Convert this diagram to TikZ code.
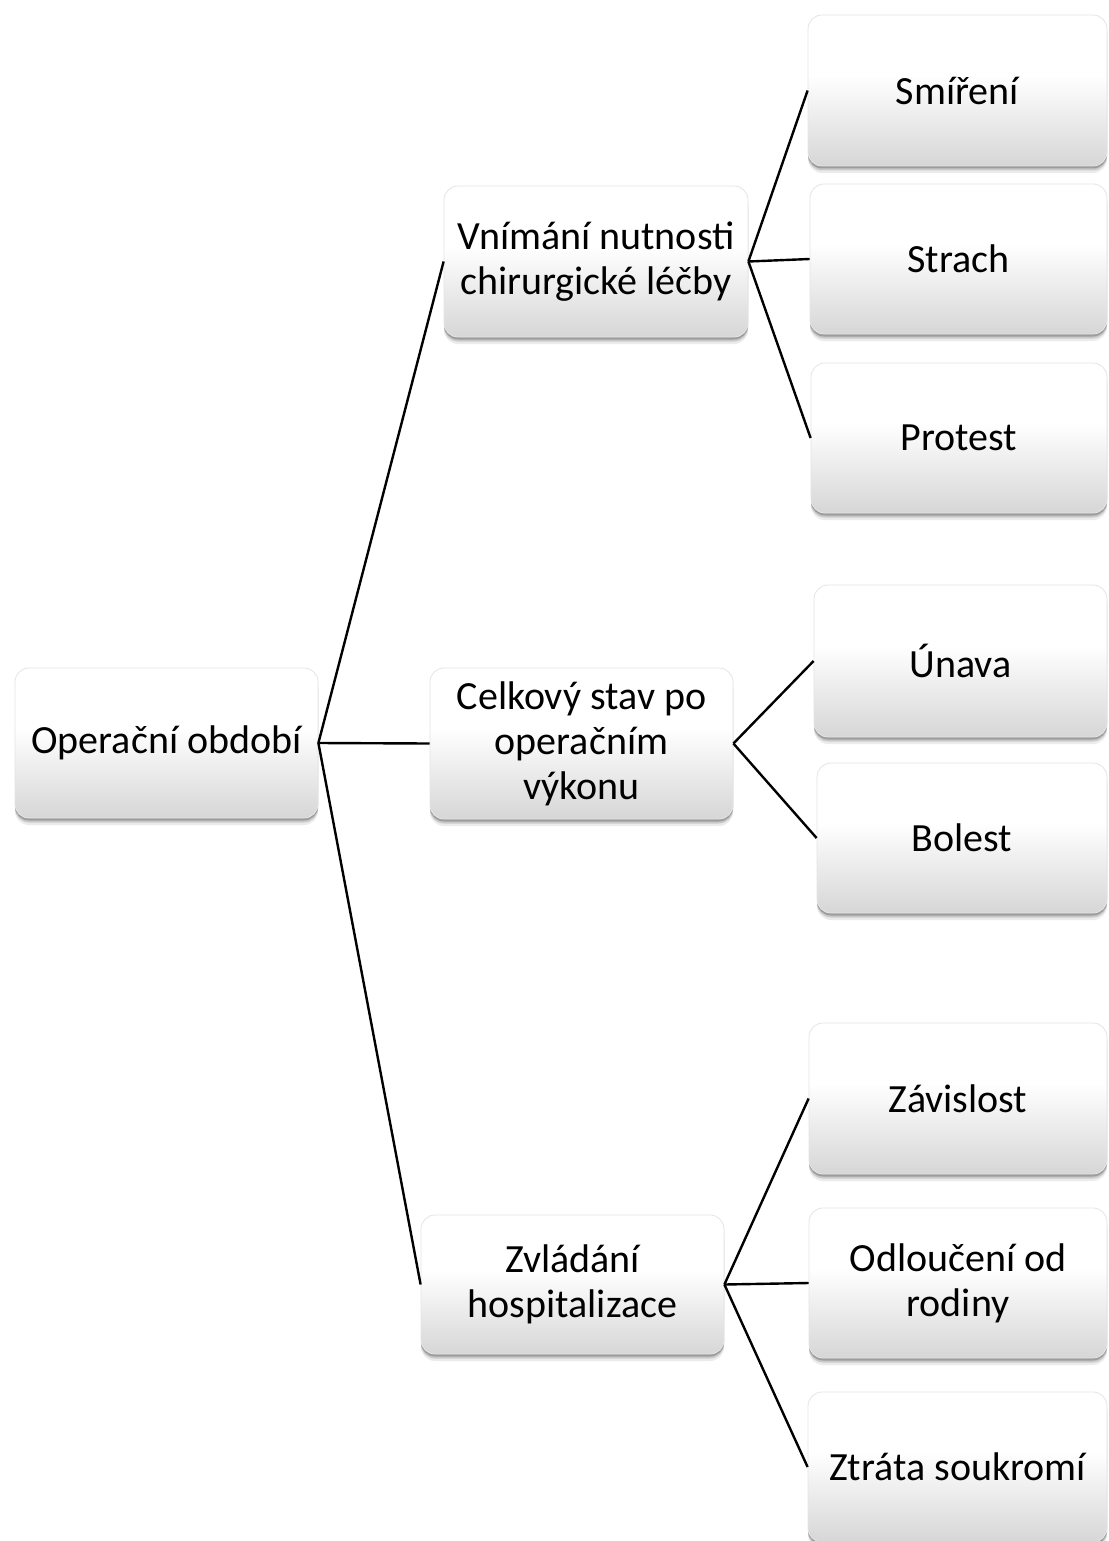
\documentclass[tikz,border=0pt]{standalone}
\usepackage{fontspec}
\setmainfont{Carlito}
% white upper half fading into light grey at the bottom
\pgfdeclareverticalshading{boxshade}{100bp}{
  color(0bp)=(black!16); color(25bp)=(black!16); color(55bp)=(white); color(100bp)=(white)}
\tikzset{
  softshadow/.style={preaction={fill=black, opacity=0.08, transform canvas={yshift=-7pt}},
    preaction={fill=black, opacity=0.14, transform canvas={yshift=-4.5pt}},
    preaction={fill=black, opacity=0.22, transform canvas={yshift=-2.5pt}}},
  box/.style={rectangle, rounded corners=14pt, draw=black!10, line width=0.8pt,
    softshadow, shade, shading=boxshade,
    align=center, inner sep=0pt, font=\fontsize{40}{45}\selectfont},
  link/.style={line width=2.4pt, black}
}
\begin{document}
\begin{tikzpicture}[x=1pt, y=1pt]
  \useasboundingbox[fill=white] (0,0) rectangle (1108,-1541);
  % root
  \node[box, minimum width=303pt, minimum height=150pt] (root) at (166.5,-743) {Operační období};
  % second level
  \node[box, minimum width=304pt, minimum height=151pt] (vni) at (596,-261.5) {Vnímání nutnosti\\chirurgické léčby};
  \node[box, minimum width=303pt, minimum height=151pt] (cel) at (581.5,-743.5) {Celkový stav po\\operačním\\výkonu};
  \node[box, minimum width=303pt, minimum height=139pt] (zvl) at (572.5,-1284.5) {Zvládání\\hospitalizace};
  % leaves
  \node[box, minimum width=299pt, minimum height=151pt] (smi) at (957.5,-90.5) {Smíření};
  \node[box, minimum width=297pt, minimum height=150pt] (str) at (958.5,-259) {Strach};
  \node[box, minimum width=296pt, minimum height=150pt] (pro) at (959,-438) {Protest};
  \node[box, minimum width=293pt, minimum height=152pt] (una) at (960.5,-661) {Únava};
  \node[box, minimum width=290pt, minimum height=150pt] (bol) at (962,-838) {Bolest};
  \node[box, minimum width=298pt, minimum height=151pt] (zav) at (958,-1098.5) {Závislost};
  \node[box, minimum width=298pt, minimum height=150pt] (odl) at (958,-1283) {Odloučení od\\rodiny};
  \node[box, minimum width=299pt, minimum height=150pt] (ztr) at (957.5,-1467) {Ztráta soukromí};
  % connectors
  \draw[link] (root.east) -- (vni.west);
  \draw[link] (root.east) -- (cel.west);
  \draw[link] (root.east) -- (zvl.west);
  \draw[link] (vni.east) -- (smi.west);
  \draw[link] (vni.east) -- (str.west);
  \draw[link] (vni.east) -- (pro.west);
  \draw[link] (cel.east) -- (una.west);
  \draw[link] (cel.east) -- (bol.west);
  \draw[link] (zvl.east) -- (zav.west);
  \draw[link] (zvl.east) -- (odl.west);
  \draw[link] (zvl.east) -- (ztr.west);
\end{tikzpicture}
\end{document}
